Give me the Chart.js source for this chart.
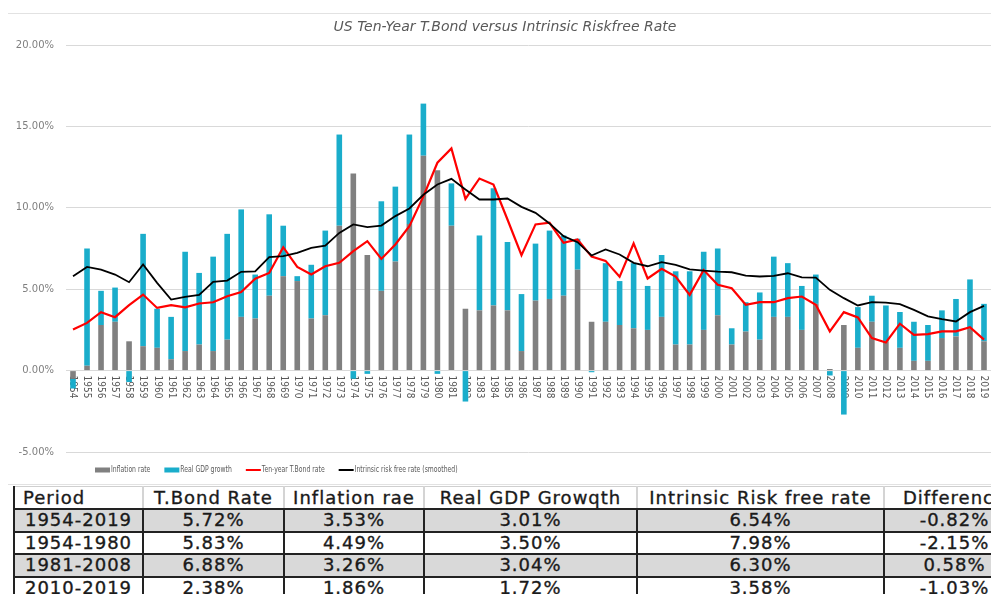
<!DOCTYPE html>
<html>
<head>
<meta charset="utf-8">
<script src="https://cdn.jsdelivr.net/npm/chart.js@4.4.0/dist/chart.umd.min.js"></script>
<style>
  html, body { margin: 0; padding: 0; background: #fff; overflow: hidden; }
  body { width: 991px; height: 594px; position: relative; }
  #frame { position: absolute; left: 8px; top: 13px; width: 983px; height: 470px;
           border-top: 1px solid #e2e2e2; border-bottom: 1px solid #e2e2e2; }
  #chart { position: absolute; left: 0; top: 0; }
  table { position: absolute; left: 13px; top: 486px; width: 1011px; border-collapse: collapse; table-layout: fixed;
          font-family: "DejaVu Sans", sans-serif; font-size: 18px; color: #1a1a1a; letter-spacing: 1px;
          -webkit-text-stroke: 0.35px #1a1a1a; }
  td { height: 20.5px; line-height: 20px; padding: 0; border: 2px solid #222; text-align: center; white-space: nowrap; overflow: hidden; }
  tr.hd td { height: 21px; border-top: 1px solid #cfcfcf; border-left: 2px solid #d4d4d4; border-right: 2px solid #d4d4d4; }
  tr.hd td.l { text-align: left; padding-left: 8px; border-left: 2px solid #222; }
  tr.g td { background: #d9d9d9; }
</style>
</head>
<body>
<div id="frame"></div>
<canvas id="chart" width="991" height="482"></canvas>
<table id="tbl">
  <colgroup>
    <col style="width:129px"><col style="width:141px"><col style="width:140px">
    <col style="width:213px"><col style="width:247px"><col style="width:141px">
  </colgroup>
  <tbody></tbody>
</table>
<script>
// categories
const years = ['1954','1955','1956','1957','1958','1959','1960','1961','1962','1963',
  '1964','1965','1966','1967','1968','1969','1970','1971','1972','1973',
  '1974','1975','1976','1977','1978','1979','1980','1981','1982','1983',
  '1984','1985','1986','1987','1988','1989','1990','1991','1992','1993',
  '1994','1995','1996','1997','1998','1999','2000','2001','2002','2003',
  '2004','2005','2006','2007','2008','2009','2010','2011','2012','2013',
  '2014','2015','2016','2017','2018','2019'];

// series (percent)
const inflation = [-0.5, 0.3, 2.8, 3.0, 1.8, 1.5, 1.4, 0.7, 1.2, 1.6,
  1.2, 1.9, 3.3, 3.2, 4.6, 5.8, 5.5, 3.2, 3.4, 8.9,
  12.1, 7.1, 4.9, 6.7, 9.0, 13.2, 12.3, 8.9, 3.8, 3.7,
  4.0, 3.7, 1.2, 4.3, 4.4, 4.6, 6.2, 3.0, 3.0, 2.8,
  2.6, 2.5, 3.3, 1.6, 1.6, 2.5, 3.4, 1.6, 2.4, 1.9,
  3.3, 3.3, 2.5, 4.1, 0.1, 2.8, 1.4, 3.0, 1.8, 1.4,
  0.6, 0.6, 2.0, 2.1, 2.6, 1.8];
const realGdp = [-0.6, 7.2, 2.1, 2.1, -0.7, 6.9, 2.4, 2.6, 6.1, 4.4,
  5.8, 6.5, 6.6, 2.7, 5.0, 3.1, 0.3, 3.3, 5.2, 5.6,
  -0.5, -0.2, 5.5, 4.6, 5.5, 3.2, -0.2, 2.6, -1.9, 4.6,
  7.2, 4.2, 3.5, 3.5, 4.2, 3.7, 1.9, -0.1, 3.6, 2.7,
  4.0, 2.7, 3.8, 4.5, 4.5, 4.8, 4.1, 1.0, 1.8, 2.9,
  3.7, 3.3, 2.7, 1.8, -0.3, -2.7, 2.5, 1.6, 2.2, 2.2,
  2.4, 2.2, 1.7, 2.3, 3.0, 2.3];
const tbond = [2.52, 2.93, 3.59, 3.28, 4.02, 4.67, 3.85, 4.02, 3.89, 4.12,
  4.20, 4.57, 4.82, 5.64, 6.00, 7.58, 6.37, 5.90, 6.41, 6.62,
  7.34, 7.95, 6.86, 7.75, 8.87, 10.70, 12.77, 13.65, 10.55, 11.80,
  11.43, 9.28, 7.09, 8.98, 9.08, 7.85, 8.05, 7.00, 6.74, 5.76,
  7.81, 5.66, 6.25, 5.78, 4.65, 6.18, 5.27, 5.06, 4.04, 4.20,
  4.20, 4.45, 4.55, 4.04, 2.41, 3.59, 3.27, 2.00, 1.73, 2.88,
  2.20, 2.24, 2.41, 2.41, 2.67, 1.90];
const intrinsic = [5.80, 6.37, 6.20, 5.90, 5.43, 6.52, 5.39, 4.36, 4.53, 4.65,
  5.45, 5.53, 6.07, 6.09, 6.97, 7.03, 7.23, 7.54, 7.68, 8.46,
  8.98, 8.81, 8.91, 9.49, 9.96, 10.80, 11.43, 11.78, 11.13, 10.51,
  10.51, 10.57, 10.06, 9.69, 9.04, 8.26, 7.89, 7.07, 7.44, 7.13,
  6.62, 6.41, 6.66, 6.49, 6.22, 6.14, 6.08, 6.04, 5.84, 5.78,
  5.82, 5.98, 5.73, 5.71, 4.96, 4.45, 4.00, 4.20, 4.18, 4.08,
  3.73, 3.33, 3.16, 3.02, 3.59, 3.98];

// y-axis ticks
const yTicks = [-5, 0, 5, 10, 15, 20];

// summary table
const tableHead = ['Period', 'T.Bond Rate', 'Inflation rae', 'Real GDP Growqth', 'Intrinsic Risk free rate', 'Difference'];
const periods   = ['1954-2019', '1954-1980', '1981-2008', '2010-2019'];
const avgTbond  = ['5.72%', '5.83%', '6.88%', '2.38%'];
const avgInfl   = ['3.53%', '4.49%', '3.26%', '1.86%'];
const avgGdp    = ['3.01%', '3.50%', '3.04%', '1.72%'];
const avgIrf    = ['6.54%', '7.98%', '6.30%', '3.58%'];
const avgDiff   = ['-0.82%', '-2.15%', '0.58%', '-1.03%'];

const tbody = document.querySelector('#tbl tbody');
let html = '<tr class="hd">' + tableHead.map((h, i) => '<td' + (i === 0 ? ' class="l"' : '') + '>' + h + '</td>').join('') + '</tr>';
periods.forEach((p, i) => {
  html += '<tr' + (i % 2 === 0 ? ' class="g"' : '') + '><td>' + p + '</td><td>' + avgTbond[i] + '</td><td>' + avgInfl[i] +
    '</td><td>' + avgGdp[i] + '</td><td>' + avgIrf[i] + '</td><td>' + avgDiff[i] + '</td></tr>';
});
tbody.innerHTML = html;

const GREY = '#808080', CYAN = '#1aadcb';

// year labels read top-to-bottom just under the 0% line, drawn beneath the bars
const yearLabels = {
  id: 'yearLabels',
  beforeDatasetsDraw(chart) {
    const { ctx, scales: { x, y } } = chart;
    const y0 = y.getPixelForValue(0) + 5;
    ctx.save();
    ctx.font = '10px "DejaVu Sans Condensed", "DejaVu Sans", sans-serif';
    ctx.fillStyle = '#595959';
    ctx.textAlign = 'left';
    ctx.textBaseline = 'middle';
    years.forEach((yr, i) => {
      ctx.save();
      ctx.translate(x.getPixelForValue(i), y0);
      ctx.rotate(Math.PI / 2);
      ctx.fillText(yr, 0, 0);
      ctx.restore();
    });
    ctx.restore();
  }
};

// title + Excel style legend
const titleLegend = {
  id: 'titleLegend',
  afterDraw(chart) {
    const ctx = chart.ctx;
    ctx.save();
    ctx.font = 'italic 14px "DejaVu Sans", sans-serif';
    ctx.fillStyle = '#595959';
    ctx.textAlign = 'center';
    ctx.textBaseline = 'middle';
    ctx.fillText('US Ten-Year T.Bond versus Intrinsic Riskfree Rate', 505, 27);

    ctx.font = '8.5px "DejaVu Sans Condensed", sans-serif';
    ctx.textAlign = 'left';
    const squeeze = 0.8;
    let lx = 95;
    const ly = 470;
    chart.data.datasets.forEach(ds => {
      if (ds.type === 'bar') {
        ctx.fillStyle = ds.backgroundColor;
        ctx.fillRect(lx, ly - 2.5, 15, 5);
      } else {
        ctx.strokeStyle = ds.borderColor;
        ctx.lineWidth = 2;
        ctx.beginPath();
        ctx.moveTo(lx, ly);
        ctx.lineTo(lx + 15, ly);
        ctx.stroke();
      }
      lx += 16;
      ctx.save();
      ctx.translate(lx, ly);
      ctx.scale(squeeze, 1);
      ctx.fillStyle = '#595959';
      ctx.fillText(ds.label, 0, 0);
      ctx.restore();
      lx += ctx.measureText(ds.label).width * squeeze + 14;
    });
    ctx.restore();
  }
};

new Chart(document.getElementById('chart'), {
  type: 'bar',
  data: {
    labels: years,
    datasets: [
      { type: 'bar', label: 'Inflation rate', data: inflation, backgroundColor: GREY, stack: 'bars', order: 2,
        barPercentage: 0.4, categoryPercentage: 1.0 },
      { type: 'bar', label: 'Real GDP growth', data: realGdp, backgroundColor: CYAN, stack: 'bars', order: 2,
        barPercentage: 0.4, categoryPercentage: 1.0 },
      { type: 'line', label: 'Ten-year T.Bond rate', data: tbond, borderColor: '#ff0000', backgroundColor: '#ff0000',
        borderWidth: 2.2, pointRadius: 0, tension: 0, fill: false, stack: 'tb', order: 1 },
      { type: 'line', label: 'Intrinsic risk free rate (smoothed)', data: intrinsic, borderColor: '#000000', backgroundColor: '#000000',
        borderWidth: 1.8, pointRadius: 0, tension: 0, fill: false, stack: 'irf', order: 0 }
    ]
  },
  options: {
    responsive: false,
    animation: false,
    layout: { padding: { top: 45, bottom: 30, left: 0, right: 0 } },
    plugins: { legend: { display: false }, tooltip: { enabled: false }, title: { display: false } },
    scales: {
      x: { display: false, stacked: true, offset: true },
      y: {
        stacked: true,
        min: yTicks[0], max: yTicks[yTicks.length - 1],
        afterBuildTicks: s => { s.ticks = yTicks.map(v => ({ value: v })); },
        afterFit: s => { s.width = 66; },
        grid: { color: '#d9d9d9', drawTicks: false },
        border: { display: false },
        ticks: { padding: 12, color: '#7f7f7f', font: { family: 'DejaVu Sans', size: 10 },
                 callback: v => v.toFixed(2) + '%' }
      }
    }
  },
  plugins: [yearLabels, titleLegend]
});
</script>
</body>
</html>
